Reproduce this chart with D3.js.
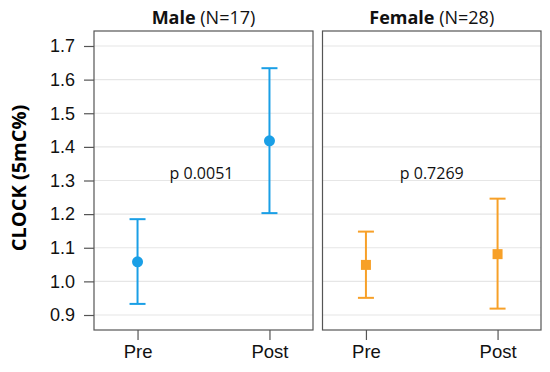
<!DOCTYPE html>
<html>
<head>
<meta charset="utf-8">
<script src="https://cdn.jsdelivr.net/npm/d3@7"></script>
<style>
  body { margin: 0; background: #fff; }
  svg { display: block; }
</style>
</head>
<body>
<script>
// data
var timepoints = ["Pre", "Post"];
var groups = ["Male", "Female"];
var groupN = ["(N=17)", "(N=28)"];
var pValues = ["p 0.0051", "p 0.7269"];
var maleMean = [1.058, 1.418];
var maleLow = [0.933, 1.203];
var maleHigh = [1.185, 1.634];
var femaleMean = [1.049, 1.081];
var femaleLow = [0.951, 0.919];
var femaleHigh = [1.148, 1.246];
var yTicks = [0.9, 1.0, 1.1, 1.2, 1.3, 1.4, 1.5, 1.6, 1.7];

var W = 550, H = 372;
var svg = d3.select("body").append("svg")
  .attr("width", W)
  .attr("height", H);

var plotTop = 31, plotBottom = 330;
var panelX = [[94, 313], [322.5, 541]];
var colors = ["#1a9fe6", "#f7a028"];

var yScale = d3.scaleLinear()
  .domain([0.8554, 1.7446])
  .range([plotBottom, plotTop]);

var series = [
  {mean: maleMean, lo: maleLow, hi: maleHigh},
  {mean: femaleMean, lo: femaleLow, hi: femaleHigh}
];

// y axis title
svg.append("text")
  .attr("transform", "translate(26,178) rotate(-90)")
  .attr("text-anchor", "middle")
  .style("font-family", "Open Sans")
  .style("font-weight", "bold")
  .style("font-size", "20px")
  .text("CLOCK (5mC%)");

groups.forEach(function(name, i) {
  var x0 = panelX[i][0], x1 = panelX[i][1];
  var xScale = d3.scalePoint()
    .domain(timepoints)
    .range([x0, x1])
    .padding(0.33);

  var g = svg.append("g");

  // grid lines
  g.selectAll(".grid")
    .data(yTicks)
    .enter()
    .append("line")
    .attr("x1", x0)
    .attr("x2", x1)
    .attr("y1", function(d) { return yScale(d); })
    .attr("y2", function(d) { return yScale(d); })
    .attr("stroke", "#e6e6e6")
    .attr("stroke-width", 1.2);

  // panel box
  g.append("rect")
    .attr("x", x0)
    .attr("y", plotTop)
    .attr("width", x1 - x0)
    .attr("height", plotBottom - plotTop)
    .attr("fill", "none")
    .attr("stroke", "#555")
    .attr("stroke-width", 1.2);

  // x axis
  var xAxis = g.append("g")
    .attr("transform", "translate(0," + plotBottom + ")")
    .call(d3.axisBottom(xScale).tickSize(10).tickPadding(5));
  xAxis.select(".domain").remove();
  xAxis.selectAll("line").attr("stroke", "#555").attr("stroke-width", 1.2);
  xAxis.selectAll("text")
    .style("font-family", "Liberation Sans")
    .style("font-size", "18.5px")
    .attr("fill", "#111");

  if (i === 0) {
    var yAxis = g.append("g")
      .attr("transform", "translate(" + x0 + ",0)")
      .call(d3.axisLeft(yScale).tickValues(yTicks).tickFormat(d3.format(".1f")).tickSize(10).tickPadding(9));
    yAxis.select(".domain").remove();
    yAxis.selectAll("line").attr("stroke", "#555").attr("stroke-width", 1.2);
    yAxis.selectAll("text")
      .style("font-family", "Liberation Sans")
      .style("font-size", "18px")
      .attr("fill", "#111");
  }

  // panel title
  var title = svg.append("text")
    .attr("x", (x0 + x1) / 2)
    .attr("y", 24)
    .attr("text-anchor", "middle")
    .style("font-family", "Open Sans")
    .style("font-size", "18px")
    .attr("fill", "#111");
  title.append("tspan").style("font-weight", "bold").text(name + " ");
  title.append("tspan").text(groupN[i]);

  // p value
  svg.append("text")
    .attr("x", (x0 + x1) / 2 - (i === 0 ? 2 : 0))
    .attr("y", 179)
    .attr("text-anchor", "middle")
    .style("font-family", "Open Sans")
    .style("font-size", "16px")
    .attr("fill", "#111")
    .text(pValues[i]);

  var s = series[i];
  var col = colors[i];
  var pts = timepoints.map(function(t, k) {
    return {t: t, mean: s.mean[k], lo: s.lo[k], hi: s.hi[k]};
  });

  // error bars
  g.selectAll(".vbar")
    .data(pts)
    .enter()
    .append("line")
    .attr("x1", function(d) { return xScale(d.t); })
    .attr("x2", function(d) { return xScale(d.t); })
    .attr("y1", function(d) { return yScale(d.lo); })
    .attr("y2", function(d) { return yScale(d.hi); })
    .attr("stroke", col)
    .attr("stroke-width", 2);

  ["lo", "hi"].forEach(function(k) {
    g.selectAll(".cap-" + k)
      .data(pts)
      .enter()
      .append("line")
      .attr("x1", function(d) { return xScale(d.t) - 8; })
      .attr("x2", function(d) { return xScale(d.t) + 8; })
      .attr("y1", function(d) { return yScale(d[k]); })
      .attr("y2", function(d) { return yScale(d[k]); })
      .attr("stroke", col)
      .attr("stroke-width", 2);
  });

  // markers
  if (i === 0) {
    g.selectAll(".pt")
      .data(pts)
      .enter()
      .append("circle")
      .attr("cx", function(d) { return xScale(d.t); })
      .attr("cy", function(d) { return yScale(d.mean); })
      .attr("r", 5.5)
      .attr("fill", col);
  } else {
    g.selectAll(".pt")
      .data(pts)
      .enter()
      .append("rect")
      .attr("x", function(d) { return xScale(d.t) - 5; })
      .attr("y", function(d) { return yScale(d.mean) - 5; })
      .attr("width", 10)
      .attr("height", 10)
      .attr("fill", col);
  }
});
</script>
</body>
</html>
